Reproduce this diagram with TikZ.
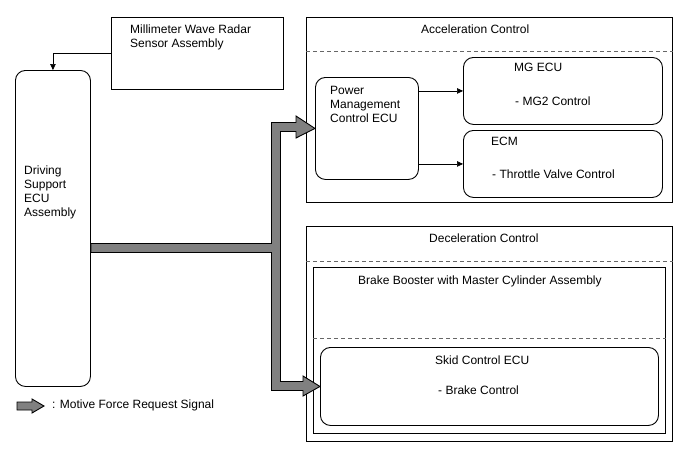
\documentclass[tikz,border=0pt]{standalone}
\usepackage{fontspec}
\setmainfont{Liberation Sans}
\usetikzlibrary{calc,arrows.meta}
\begin{document}
\begin{tikzpicture}[x=1pt,y=-1pt, font=\fontsize{12}{14}\selectfont,
  box/.style={draw, line width=0.9pt, inner sep=0pt, anchor=north west},
  rbox/.style={box, rounded corners=10pt},
  sig/.style={-{Triangle[length=6pt,width=5.5pt]}, line width=0.6pt},
  dashln/.style={draw=black!60, dash pattern=on 4pt off 3pt, line width=0.7pt},
  txt/.style={inner sep=0pt, anchor=base west},
  bigarrow/.style={draw=black, fill=black!50, line width=0.9pt, line join=miter}]
\useasboundingbox (0,0) rectangle (688,463);

% boxes
\node[box, minimum width=172pt, minimum height=72pt] (rad) at (111,17) {};
\node[rbox, minimum width=75pt, minimum height=316pt] (ds) at (15,70) {};
\node[box, minimum width=366pt, minimum height=185pt] (acc) at (306,17) {};
\node[rbox, minimum width=103pt, minimum height=102pt] (pm) at (315,77) {};
\node[rbox, minimum width=199pt, minimum height=67pt] (mg) at (463,57) {};
\node[rbox, minimum width=199pt, minimum height=67pt] (ecm) at (463,130) {};
\node[box, minimum width=366pt, minimum height=215pt] (dec) at (306,226) {};
\node[box, minimum width=352pt, minimum height=166pt] (bb) at (313,267) {};
\node[rbox, minimum width=338pt, minimum height=78pt] (sk) at (320,347) {};

% dashed separators
\draw[dashln] ($(acc.north west)+(0,34)$) -- ($(acc.north east)+(0,34)$);
\draw[dashln] ($(dec.north west)+(0,35)$) -- ($(dec.north east)+(0,35)$);
\draw[dashln] ($(bb.north west)+(0,71)$) -- ($(bb.north east)+(0,71)$);

% texts
\node[txt] (t1) at (130,33) {Millimeter Wave Radar};
\node[txt] (t2) at (130,47) {Sensor Assembly};
\node[txt] (t3) at (24,174.5) {Driving};
\node[txt] (t4) at (24,188.5) {Support};
\node[txt] (t5) at (24,202.5) {ECU};
\node[txt] (t6) at (24,216.5) {Assembly};
\node[txt] (t7) at (421,33) {Acceleration Control};
\node[txt] (t8) at (330,94) {Power};
\node[txt] (t9) at (330,108) {Management};
\node[txt] (t10) at (330,122) {Control ECU};
\node[txt] (t11) at (514,71) {MG ECU};
\node[txt] (t12) at (515,105) {- MG2 Control};
\node[txt] (t13) at (491,145) {ECM};
\node[txt] (t14) at (492,178) {- Throttle Valve Control};
\node[txt] (t15) at (429,242) {Deceleration Control};
\node[txt] (t16) at (358,284) {Brake Booster with Master Cylinder Assembly};
\node[txt] (t17) at (435,364) {Skid Control ECU};
\node[txt] (t18) at (438,394) {- Brake Control};
\node[txt] (t19) at (52,408) {: Motive Force Request Signal};

% thin signal arrows
\draw[sig] (rad.west) -| (ds.north);
\draw[sig] (mg.west -| pm.east) -- (mg.west);
\draw[sig] (ecm.west -| pm.east) -- (ecm.west);

% motive force request signal (thick branching arrow)
\draw[bigarrow] (ds.east |- 0,243.5) -- (271.5,243.5) -- (271.5,122.5) -- (296,122.5)
  -- (296,116) -- (pm.west) -- (296,138) -- (296,131.5) -- (280.5,131.5)
  -- (280.5,381.5) -- (303,381.5) -- (303,376) -- (sk.west) -- (303,396)
  -- (303,390.5) -- (271.5,390.5) -- (271.5,252.5) -- (ds.east |- 0,252.5) -- cycle;

% legend arrow
\draw[bigarrow] (17,402) -- (32,402) -- (32,399) -- (44,406) -- (32,413) -- (32,410) -- (17,410) -- cycle;
\end{tikzpicture}
\end{document}
